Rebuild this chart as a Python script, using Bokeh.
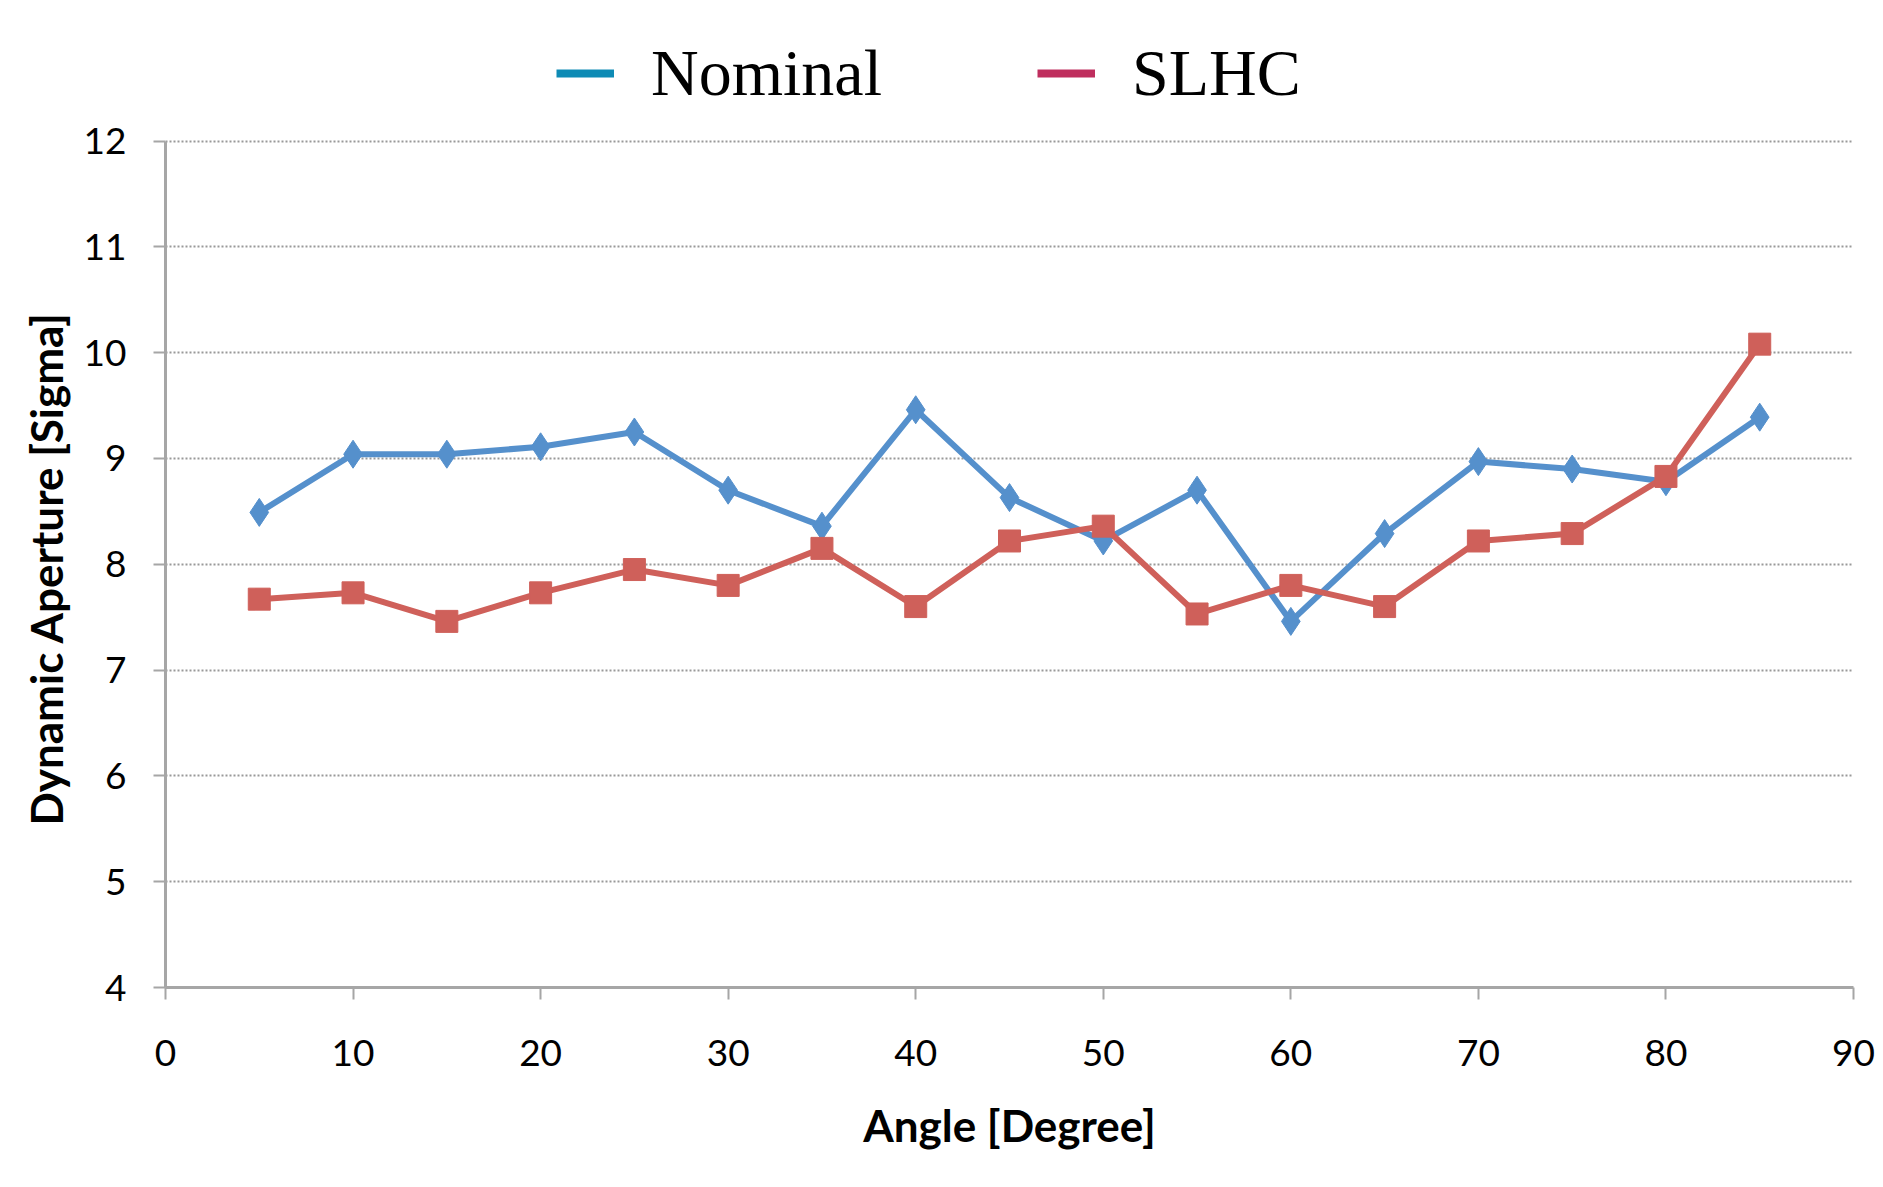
from bokeh.plotting import figure
from bokeh.models import Legend, LegendItem, Range1d, FixedTicker, ColumnDataSource, Title
from bokeh.embed import file_html
from bokeh.resources import INLINE

angles = [5, 10, 15, 20, 25, 30, 35, 40, 45, 50, 55, 60, 65, 70, 75, 80, 85]
nominal = [8.49, 9.04, 9.04, 9.11, 9.25, 8.70, 8.36, 9.46, 8.63, 8.22, 8.70, 7.46, 8.29, 8.97, 8.90, 8.78, 9.39]
slhc = [7.67, 7.73, 7.46, 7.73, 7.95, 7.80, 8.15, 7.60, 8.22, 8.36, 7.53, 7.80, 7.60, 8.22, 8.29, 8.83, 10.08]
x_ticks = [0, 10, 20, 30, 40, 50, 60, 70, 80, 90]
y_ticks = [4, 5, 6, 7, 8, 9, 10, 11, 12]
series_names = ["Nominal", "SLHC"]

BLUE = "#5590cc"
RED = "#cf605a"
LEG_BLUE = "#0e8bb5"
LEG_RED = "#bf2e5e"
GRAY = "#a6a6a6"
TICK_FONT = "Lato"

# frame spans the full height above the x axis; the value axis itself stops at 12
FRAME_BOTTOM = 987
PX_PER_UNIT = (987 - 140.5) / 8.0
y_end = 12 + 140.5 / PX_PER_UNIT

p = figure(width=1883, height=1187, output_backend="svg", toolbar_location=None,
           x_range=Range1d(0, 90), y_range=Range1d(4, y_end),
           min_border_left=165, min_border_right=30, min_border_top=0, min_border_bottom=200)
p.outline_line_color = None
p.background_fill_color = "white"
p.border_fill_color = "white"

src = ColumnDataSource(dict(x=angles, n=nominal, s=slhc))
p.line("x", "n", source=src, line_color=BLUE, line_width=6)
p.scatter("x", "n", source=src, marker="diamond", size=28, fill_color=BLUE, line_color=BLUE)
p.line("x", "s", source=src, line_color=RED, line_width=6)
p.scatter("x", "s", source=src, marker="square", size=22, fill_color=RED, line_color=RED)

# legend proxies (legend colours differ from the series colours in the original)
ln = p.line([None], [None], line_color=LEG_BLUE, line_width=8)
ls = p.line([None], [None], line_color=LEG_RED, line_width=8)
legend = Legend(items=[LegendItem(label=series_names[0], renderers=[ln]),
                       LegendItem(label=series_names[1], renderers=[ls])],
                orientation="horizontal", location=(391, FRAME_BOTTOM - 111),
                label_text_font="Liberation Serif", label_text_font_size="66px",
                label_text_color="black", glyph_width=58, glyph_height=60,
                label_standoff=37, spacing=155, padding=0, margin=0,
                border_line_color=None, background_fill_alpha=0,
                label_height=60)
p.add_layout(legend, "center")

# axes
p.xaxis.ticker = FixedTicker(ticks=x_ticks)
p.yaxis.ticker = FixedTicker(ticks=y_ticks)
p.yaxis.bounds = (4, 12)
for ax in (p.xaxis[0], p.yaxis[0]):
    ax.axis_line_color = GRAY
    ax.axis_line_width = 3
    ax.major_tick_line_color = GRAY
    ax.major_tick_line_width = 2
    ax.major_tick_out = 12
    ax.major_tick_in = 0
    ax.minor_tick_line_color = None
    ax.major_label_text_font = TICK_FONT
    ax.major_label_text_font_size = "37px"
    ax.major_label_text_color = "black"
    ax.axis_label_text_font = TICK_FONT
    ax.axis_label_text_font_style = "bold"
    ax.axis_label_text_font_size = "44px"
    ax.axis_label_text_color = "black"

p.xaxis.axis_label = "Angle [Degree]"
p.xaxis.major_label_standoff = 40
p.xaxis.axis_label_standoff = 30
p.yaxis.major_label_standoff = 27

# y axis title, centred on the 4..12 span of the axis (not on the taller frame)
ytitle = Title(text="Dynamic Aperture [Sigma]", align="left", offset=162,
               text_font=TICK_FONT, text_font_style="bold", text_font_size="44px",
               text_color="black", standoff=18)
p.add_layout(ytitle, "left")

p.xgrid.grid_line_color = None
p.ygrid.grid_line_color = "#999999"
p.ygrid.grid_line_width = 2
p.ygrid.grid_line_dash = "2 2"

open("out.html", "w").write(file_html(p, INLINE))
